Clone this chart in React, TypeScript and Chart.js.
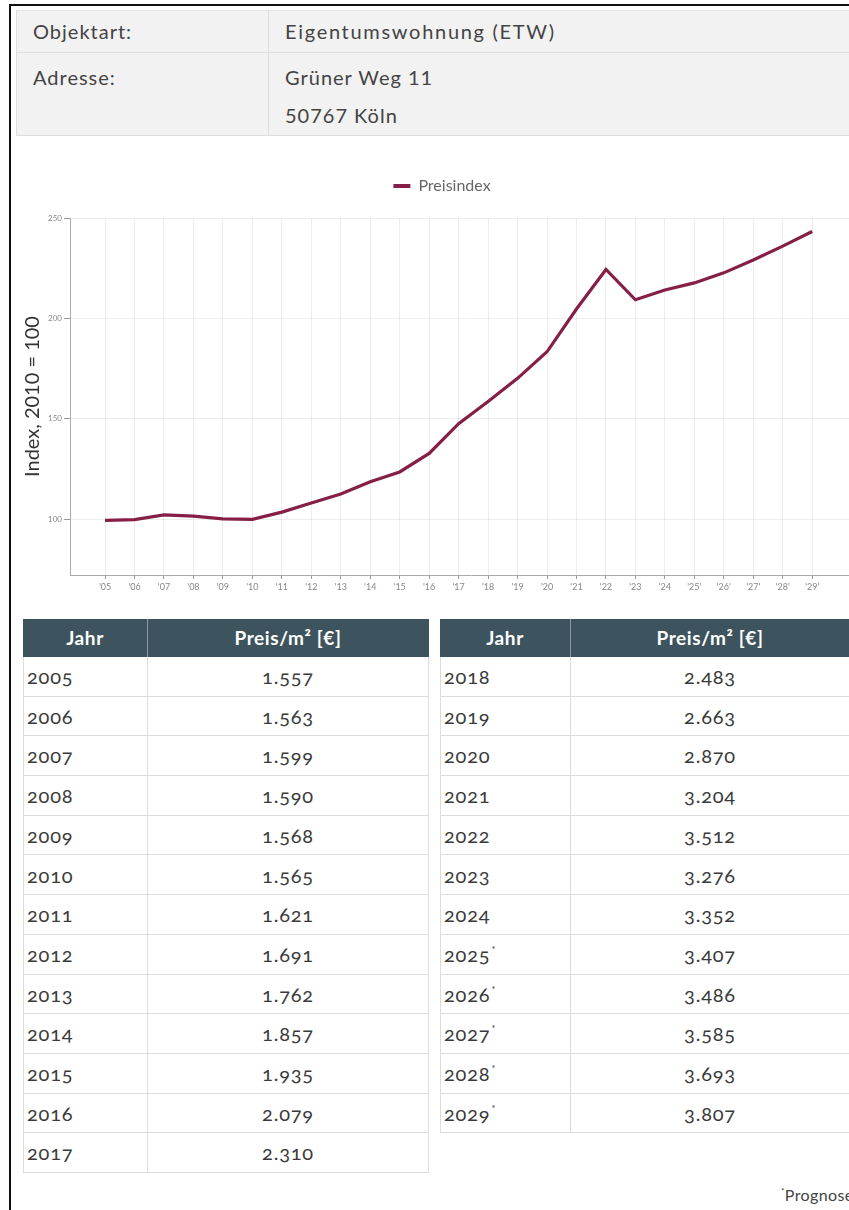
import React, { useEffect, useRef } from "react";
import { Chart, registerables } from "chart.js";

Chart.register(...registerables);

// ---------- data ----------
const YEARS = [2005, 2006, 2007, 2008, 2009, 2010, 2011, 2012, 2013, 2014, 2015, 2016, 2017, 2018, 2019, 2020, 2021, 2022, 2023, 2024, 2025, 2026, 2027, 2028, 2029];
const X_LABELS = ["'05", "'06", "'07", "'08", "'09", "'10", "'11", "'12", "'13", "'14", "'15", "'16", "'17", "'18", "'19", "'20", "'21", "'22", "'23", "'24", "'25'", "'26'", "'27'", "'28'", "'29'"];
const INDEX_VALUES = [99.5, 99.9, 102.2, 101.6, 100.2, 100.0, 103.6, 108.1, 112.6, 118.7, 123.6, 132.8, 147.6, 158.7, 170.2, 183.4, 204.7, 224.4, 209.3, 214.2, 217.7, 222.7, 229.1, 236.0, 243.3];
const Y_TICKS = [100, 150, 200, 250];
const SERIES_LABEL = "Preisindex";
const Y_TITLE = "Index, 2010 = 100";

const LEFT_YEARS = ["2005", "2006", "2007", "2008", "2009", "2010", "2011", "2012", "2013", "2014", "2015", "2016", "2017"];
const LEFT_PRICES = ["1.557", "1.563", "1.599", "1.590", "1.568", "1.565", "1.621", "1.691", "1.762", "1.857", "1.935", "2.079", "2.310"];
const RIGHT_YEARS = ["2018", "2019", "2020", "2021", "2022", "2023", "2024", "2025", "2026", "2027", "2028", "2029"];
const RIGHT_PRICES = ["2.483", "2.663", "2.870", "3.204", "3.512", "3.276", "3.352", "3.407", "3.486", "3.585", "3.693", "3.807"];
const FORECAST_YEARS = ["2025", "2026", "2027", "2028", "2029"];

const INFO_ROWS = [
  { label: "Objektart:", lines: ["Eigentumswohnung (ETW)"] },
  { label: "Adresse:", lines: ["Grüner Weg 11", "50767 Köln"] },
];

// ---------- styles ----------
const FONT = "Lato, 'Open Sans', sans-serif";
const LINE_COLOR = "#861f47";
const HEADER_BG = "#3d545e";
const BORDER = "#dcdcdc";
const TEXT = "#3a3a3a";

const ROW_H = 39.7;
const HEAD_H = 38;
const LEGEND_EXTRA = 14;

function DataTable(props: { left: number; top: number; width: number; col1: number; years: string[]; prices: string[] }) {
  const { left, top, width, col1, years, prices } = props;
  const totalH = HEAD_H + years.length * ROW_H;
  return (
    <div style={{ position: "absolute", left, top, width, height: totalH }}>
      <div style={{ position: "absolute", left: 0, top: 0, width, height: HEAD_H, background: HEADER_BG }} />
      <div style={{ position: "absolute", left: col1, top: 0, width: 1, height: HEAD_H, background: "#8a9aa1" }} />
      <div style={{ position: "absolute", left: 0, top: 0, width: col1, height: HEAD_H, lineHeight: HEAD_H + "px", textAlign: "center", color: "#fff", fontWeight: 700, fontSize: 19, letterSpacing: 0.6 }}>Jahr</div>
      <div style={{ position: "absolute", left: col1, top: 0, width: width - col1, height: HEAD_H, lineHeight: HEAD_H + "px", textAlign: "center", color: "#fff", fontWeight: 700, fontSize: 19, letterSpacing: 0.6 }}>
        Preis/m² [€]
      </div>
      {years.map((y, i) => (
        <div key={y} style={{ position: "absolute", left: 0, top: HEAD_H + i * ROW_H, width, height: ROW_H, boxSizing: "border-box", borderBottom: "1px solid " + BORDER }}>
          <div style={{ position: "absolute", left: 4, top: 0, height: ROW_H, lineHeight: ROW_H + "px", fontSize: 20, color: TEXT, letterSpacing: 0.8, fontVariantNumeric: "oldstyle-nums" }}>
            {y}
            {FORECAST_YEARS.includes(y) ? <span style={{ fontSize: 9, position: "relative", top: -9, marginLeft: 1 }}>*</span> : null}
          </div>
          <div style={{ position: "absolute", left: col1, top: 0, width: width - col1, height: ROW_H, lineHeight: ROW_H + "px", textAlign: "center", fontSize: 20, color: TEXT, letterSpacing: 0.8, fontVariantNumeric: "oldstyle-nums" }}>
            {prices[i]}
          </div>
        </div>
      ))}
      <div style={{ position: "absolute", left: 0, top: HEAD_H, width: 1, height: totalH - HEAD_H, background: BORDER }} />
      <div style={{ position: "absolute", left: width - 1, top: HEAD_H, width: 1, height: totalH - HEAD_H, background: BORDER }} />
      <div style={{ position: "absolute", left: col1, top: HEAD_H, width: 1, height: totalH - HEAD_H, background: BORDER }} />
    </div>
  );
}

const legendSpacer = {
  id: "legendSpacer",
  beforeInit(chart: any) {
    const legend = chart.legend;
    if (!legend) return;
    const origFit = legend.fit;
    legend.fit = function () {
      origFit.call(this);
      this.height += LEGEND_EXTRA;
    };
  },
};

export default function App() {
  const canvasRef = useRef<HTMLCanvasElement | null>(null);

  useEffect(() => {
    const canvas = canvasRef.current;
    if (!canvas) return;
    const data = YEARS.map((yr, i) => ({ x: yr, y: INDEX_VALUES[i] }));
    const chart = new Chart(canvas, {
      type: "line",
      data: {
        datasets: [
          {
            label: SERIES_LABEL,
            data,
            borderColor: LINE_COLOR,
            backgroundColor: LINE_COLOR,
            borderWidth: 3.2,
            pointRadius: 0,
            pointHoverRadius: 0,
            tension: 0,
            fill: false,
          },
        ],
      },
      plugins: [legendSpacer],
      options: {
        animation: false,
        responsive: true,
        maintainAspectRatio: false,
        layout: { padding: 0 },
        font: { family: FONT },
        plugins: {
          tooltip: { enabled: false },
          legend: {
            display: true,
            position: "top",
            labels: {
              boxWidth: 17,
              boxHeight: 4,
              padding: 18,
              color: "#666",
              font: { family: FONT, size: 16 },
              generateLabels: (c: any) =>
                (Chart.defaults.plugins.legend.labels.generateLabels as any)(c).map((l: any) => ({ ...l, lineWidth: 0 })),
            },
          },
        },
        scales: {
          x: {
            type: "linear",
            min: 2003.81,
            max: 2031.03,
            afterBuildTicks: (axis: any) => {
              axis.ticks = YEARS.map((v) => ({ value: v }));
            },
            afterFit: (axis: any) => {
              axis.height = 25;
            },
            grid: { color: "rgba(0,0,0,0.07)", tickColor: "#999", tickLength: 4, drawTicks: true },
            border: { color: "#aaa", width: 1 },
            ticks: {
              autoSkip: false,
              maxRotation: 0,
              padding: 3,
              color: "#888",
              font: { family: FONT, size: 9 },
              callback: (v: any) => {
                const i = YEARS.indexOf(Number(v));
                return i >= 0 ? X_LABELS[i] : "";
              },
            },
          },
          y: {
            type: "linear",
            min: 72.3,
            max: 250,
            afterBuildTicks: (axis: any) => {
              axis.ticks = Y_TICKS.map((v) => ({ value: v }));
            },
            afterFit: (axis: any) => {
              axis.width = 58;
            },
            grid: { color: "rgba(0,0,0,0.07)", tickColor: "#999", tickLength: 6, drawTicks: true },
            border: { color: "#aaa", width: 1 },
            ticks: {
              padding: 2,
              color: "#888",
              font: { family: FONT, size: 8 },
              callback: (v: any) => String(v),
            },
            title: {
              display: true,
              text: Y_TITLE,
              color: "#333",
              font: { family: FONT, size: 20 },
              padding: { top: 9, bottom: 0 },
            },
          },
        },
      },
    } as any);
    return () => chart.destroy();
  }, []);

  return (
    <div style={{ position: "absolute", left: 0, top: 0, width: 849, height: 1210, overflow: "hidden", background: "#fff", fontFamily: FONT, color: TEXT }}>
      {/* outer frame */}
      <div style={{ position: "absolute", left: 9, top: 4, width: 1000, height: 1400, borderLeft: "2px solid #111", borderTop: "2px solid #111" }} />

      {/* info table */}
      <div style={{ position: "absolute", left: 16, top: 10, width: 900, height: 126, background: "#f2f2f2" }} />
      <div style={{ position: "absolute", left: 16, top: 10, width: 900, height: 1, background: "#e4e4e4" }} />
      <div style={{ position: "absolute", left: 16, top: 52, width: 900, height: 1, background: "#dedede" }} />
      <div style={{ position: "absolute", left: 16, top: 135, width: 900, height: 1, background: "#dedede" }} />
      <div style={{ position: "absolute", left: 16, top: 10, width: 1, height: 126, background: "#dedede" }} />
      <div style={{ position: "absolute", left: 268, top: 10, width: 1, height: 126, background: "#dedede" }} />
      <div style={{ position: "absolute", left: 33, top: 10, lineHeight: "42px", fontSize: 20, letterSpacing: 1, color: "#444" }}>{INFO_ROWS[0].label}</div>
      <div style={{ position: "absolute", left: 285, top: 10, lineHeight: "42px", fontSize: 20, letterSpacing: 1.7, color: "#444" }}>{INFO_ROWS[0].lines[0]}</div>
      <div style={{ position: "absolute", left: 33, top: 58, lineHeight: "38px", fontSize: 20, letterSpacing: 1, color: "#444" }}>{INFO_ROWS[1].label}</div>
      <div style={{ position: "absolute", left: 285, top: 58, lineHeight: "38px", fontSize: 20, letterSpacing: 1, color: "#444" }}>
        {INFO_ROWS[1].lines.map((l) => (
          <div key={l}>{l}</div>
        ))}
      </div>

      {/* chart */}
      <div style={{ position: "absolute", left: 12, top: 160, width: 860, height: 440 }}>
        <canvas ref={canvasRef} />
      </div>

      {/* tables */}
      <DataTable left={23} top={619} width={406} col1={124} years={LEFT_YEARS} prices={LEFT_PRICES} />
      <DataTable left={440} top={619} width={410} col1={130} years={RIGHT_YEARS} prices={RIGHT_PRICES} />

      {/* footnote */}
      <div style={{ position: "absolute", left: 781, top: 1185, fontSize: 16, color: "#444", whiteSpace: "nowrap", letterSpacing: 0.4 }}>
        <span style={{ fontSize: 8, position: "relative", top: -7 }}>*</span>Prognose
      </div>
    </div>
  );
}
